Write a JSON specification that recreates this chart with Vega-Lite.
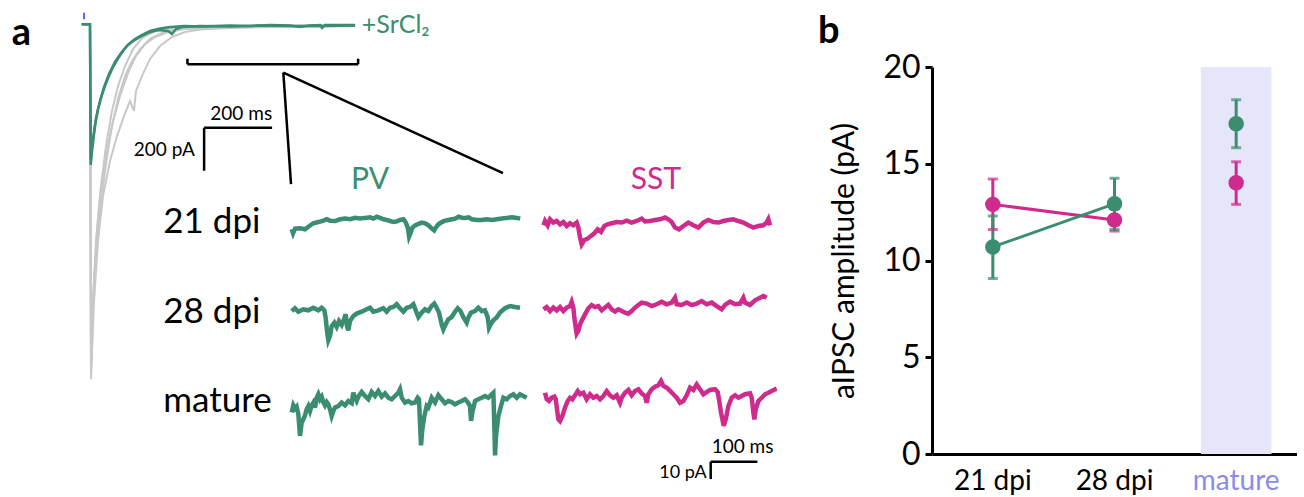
{
  "$schema": "https://vega.github.io/schema/vega-lite/v6.json",
  "padding": {"left": 0, "top": 11, "right": 0, "bottom": 0},
  "autosize": {"type": "pad"},
  "spacing": 17,
  "bounds": "full",
  "config": {"view": {"stroke": null}, "font": "Lato"},
  "datasets": {
    "big": [
      {"k":"gray1","t":0,"I":0},{"k":"gray1","t":24.4,"I":0},{"k":"gray1","t":27.4,"I":-1651},{"k":"gray1","t":30.3,"I":-1426},{"k":"gray1","t":36.2,"I":-1194},{"k":"gray1","t":45,"I":-962},{"k":"gray1","t":56.8,"I":-752},{"k":"gray1","t":71.5,"I":-566},{"k":"gray1","t":89.1,"I":-403},{"k":"gray1","t":106.8,"I":-287},{"k":"gray1","t":127.4,"I":-194},{"k":"gray1","t":150.9,"I":-115},{"k":"gray1","t":177.4,"I":-64},{"k":"gray1","t":215.6,"I":-31},{"k":"gray1","t":259.7,"I":-20},{"k":"gray1","t":318.5,"I":-13},{"k":"gray1","t":495,"I":-8},{"k":"gray1","t":642,"I":-6},{"k":"gray1","t":804,"I":-3},
      {"k":"gray2","t":0,"I":0},{"k":"gray2","t":24.4,"I":0},{"k":"gray2","t":27.4,"I":-1614},{"k":"gray2","t":33.2,"I":-1333},{"k":"gray2","t":42.1,"I":-1078},{"k":"gray2","t":53.8,"I":-869},{"k":"gray2","t":68.5,"I":-683},{"k":"gray2","t":86.2,"I":-497},{"k":"gray2","t":106.8,"I":-348},{"k":"gray2","t":127.4,"I":-241},{"k":"gray2","t":148,"I":-171},{"k":"gray2","t":171.5,"I":-115},{"k":"gray2","t":200.9,"I":-68},{"k":"gray2","t":236.2,"I":-40},{"k":"gray2","t":274.4,"I":-22},{"k":"gray2","t":333.2,"I":-15},{"k":"gray2","t":495,"I":-10},{"k":"gray2","t":804,"I":-6},
      {"k":"gray3","t":0,"I":0},{"k":"gray3","t":24.4,"I":0},{"k":"gray3","t":27.4,"I":-1637},{"k":"gray3","t":36.2,"I":-1287},{"k":"gray3","t":47.9,"I":-1008},{"k":"gray3","t":62.6,"I":-799},{"k":"gray3","t":83.2,"I":-636},{"k":"gray3","t":103.8,"I":-520},{"k":"gray3","t":124.4,"I":-427},{"k":"gray3","t":142.1,"I":-357},{"k":"gray3","t":153.8,"I":-403},{"k":"gray3","t":159.7,"I":-310},{"k":"gray3","t":177.4,"I":-240},{"k":"gray3","t":200.9,"I":-161},{"k":"gray3","t":230.3,"I":-101},{"k":"gray3","t":265.6,"I":-59},{"k":"gray3","t":303.8,"I":-36},{"k":"gray3","t":348,"I":-24},{"k":"gray3","t":436,"I":-17},{"k":"gray3","t":554,"I":-13},{"k":"gray3","t":804,"I":-8},
      {"k":"gray4","t":0,"I":0},{"k":"gray4","t":24.4,"I":0},{"k":"gray4","t":27.4,"I":-1591},{"k":"gray4","t":33.2,"I":-1287},{"k":"gray4","t":42.1,"I":-1008},{"k":"gray4","t":53.8,"I":-799},{"k":"gray4","t":71.5,"I":-613},{"k":"gray4","t":92.1,"I":-450},{"k":"gray4","t":112.6,"I":-334},{"k":"gray4","t":136.2,"I":-227},{"k":"gray4","t":159.7,"I":-147},{"k":"gray4","t":186.2,"I":-92},{"k":"gray4","t":215.6,"I":-59},{"k":"gray4","t":253.8,"I":-36},{"k":"gray4","t":303.8,"I":-22},{"k":"gray4","t":406.8,"I":-15},{"k":"gray4","t":642,"I":-10},{"k":"gray4","t":804,"I":-8},
      {"k":"green1","t":0,"I":0},{"k":"green1","t":24.4,"I":0},{"k":"green1","t":26.5,"I":-654},{"k":"green1","t":30.3,"I":-590},{"k":"green1","t":39.1,"I":-473},{"k":"green1","t":47.9,"I":-394},{"k":"green1","t":58.8,"I":-333},{"k":"green1","t":68.5,"I":-287},{"k":"green1","t":78.2,"I":-248},{"k":"green1","t":92.1,"I":-199},{"k":"green1","t":107.6,"I":-157},{"k":"green1","t":121.5,"I":-124},{"k":"green1","t":137.1,"I":-93},{"k":"green1","t":156.8,"I":-68},{"k":"green1","t":176.5,"I":-50},{"k":"green1","t":200.9,"I":-31},{"k":"green1","t":230.3,"I":-20},{"k":"green1","t":259.7,"I":-13},{"k":"green1","t":303.8,"I":-8},{"k":"green1","t":347.9,"I":-10},{"k":"green1","t":436.2,"I":-6},{"k":"green1","t":495,"I":-8},{"k":"green1","t":553.8,"I":-3},{"k":"green1","t":612.6,"I":-6},{"k":"green1","t":642,"I":-13},{"k":"green1","t":670,"I":-5},{"k":"green1","t":701.2,"I":-3},{"k":"green1","t":707,"I":-17},{"k":"green1","t":715.6,"I":-3},{"k":"green1","t":759.7,"I":-3},{"k":"green1","t":803.8,"I":-3},
      {"k":"green2","t":0,"I":0},{"k":"green2","t":24.4,"I":0},{"k":"green2","t":26.5,"I":-627},{"k":"green2","t":33.2,"I":-533},{"k":"green2","t":42.1,"I":-436},{"k":"green2","t":53.8,"I":-357},{"k":"green2","t":65.6,"I":-292},{"k":"green2","t":80.3,"I":-231},{"k":"green2","t":97.9,"I":-175},{"k":"green2","t":115.6,"I":-133},{"k":"green2","t":133.2,"I":-101},{"k":"green2","t":150.9,"I":-78},{"k":"green2","t":171.5,"I":-59},{"k":"green2","t":195,"I":-40},{"k":"green2","t":224.4,"I":-27},{"k":"green2","t":253.8,"I":-31},{"k":"green2","t":265.6,"I":-45},{"k":"green2","t":277.4,"I":-22},{"k":"green2","t":295,"I":-13},{"k":"green2","t":348,"I":-8},{"k":"green2","t":436,"I":-10},{"k":"green2","t":524,"I":-6},{"k":"green2","t":613,"I":-8},{"k":"green2","t":701,"I":-8},{"k":"green2","t":804,"I":-6}
    ],
    "small": [
      {"s":"p21","t":0,"I":0},{"s":"p21","t":2.9,"I":-2.3},{"s":"p21","t":7.1,"I":0.4},{"s":"p21","t":17.9,"I":0.6},{"s":"p21","t":28.6,"I":0},{"s":"p21","t":35.7,"I":1.5},{"s":"p21","t":46.4,"I":3.5},{"s":"p21","t":57.1,"I":4.2},{"s":"p21","t":67.9,"I":5.0},{"s":"p21","t":75,"I":5.8},{"s":"p21","t":82.1,"I":5.0},{"s":"p21","t":92.9,"I":4.8},{"s":"p21","t":103.6,"I":5.8},{"s":"p21","t":114.3,"I":6.2},{"s":"p21","t":125,"I":5.8},{"s":"p21","t":135.7,"I":6.6},{"s":"p21","t":146.4,"I":6.2},{"s":"p21","t":157.1,"I":6.6},{"s":"p21","t":167.9,"I":6.9},{"s":"p21","t":175,"I":6.2},{"s":"p21","t":182.1,"I":7.3},{"s":"p21","t":189.3,"I":6.6},{"s":"p21","t":196.4,"I":5.8},{"s":"p21","t":203.6,"I":5.4},{"s":"p21","t":210.7,"I":4.8},{"s":"p21","t":217.9,"I":4.2},{"s":"p21","t":225,"I":4.6},{"s":"p21","t":232.1,"I":5.4},{"s":"p21","t":239.3,"I":5.8},{"s":"p21","t":244.3,"I":3.9},{"s":"p21","t":248.6,"I":1.0},{"s":"p21","t":251.4,"I":-4.2},{"s":"p21","t":254.3,"I":-2.3},{"s":"p21","t":258.6,"I":1.0},{"s":"p21","t":264.3,"I":2.3},{"s":"p21","t":271.4,"I":3.1},{"s":"p21","t":278.6,"I":3.9},{"s":"p21","t":285.7,"I":3.5},{"s":"p21","t":292.9,"I":2.3},{"s":"p21","t":300,"I":0.4},{"s":"p21","t":305,"I":-0.6},{"s":"p21","t":308.6,"I":1.0},{"s":"p21","t":314.3,"I":2.9},{"s":"p21","t":321.4,"I":4.2},{"s":"p21","t":328.6,"I":5.0},{"s":"p21","t":335.7,"I":5.4},{"s":"p21","t":342.9,"I":5.8},{"s":"p21","t":350,"I":6.2},{"s":"p21","t":357.1,"I":7.3},{"s":"p21","t":364.3,"I":6.7},{"s":"p21","t":371.4,"I":6.6},{"s":"p21","t":378.6,"I":6.9},{"s":"p21","t":385.7,"I":5.8},{"s":"p21","t":396.4,"I":5.4},{"s":"p21","t":407.1,"I":5.4},{"s":"p21","t":417.9,"I":5.8},{"s":"p21","t":428.6,"I":5.4},{"s":"p21","t":439.3,"I":5.8},{"s":"p21","t":450,"I":6.2},{"s":"p21","t":460.7,"I":6.6},{"s":"p21","t":471.4,"I":6.9},{"s":"p21","t":482.1,"I":6.6},{"s":"p21","t":489.3,"I":6.2},
      {"s":"s21","t":0,"I":-0.6},{"s":"s21","t":3.2,"I":1.9},{"s":"s21","t":8.9,"I":-0.6},{"s":"s21","t":13.9,"I":2.9},{"s":"s21","t":21.1,"I":1.0},{"s":"s21","t":28.2,"I":1.9},{"s":"s21","t":35.3,"I":0},{"s":"s21","t":42.5,"I":1.3},{"s":"s21","t":49.6,"I":-1.0},{"s":"s21","t":56.7,"I":0.6},{"s":"s21","t":63.9,"I":-0.6},{"s":"s21","t":71.0,"I":1.0},{"s":"s21","t":74.6,"I":-1.9},{"s":"s21","t":78.2,"I":-7.7},{"s":"s21","t":81.7,"I":-11.6},{"s":"s21","t":87.4,"I":-9.1},{"s":"s21","t":94.6,"I":-8.3},{"s":"s21","t":101.7,"I":-6.7},{"s":"s21","t":108.8,"I":-5.2},{"s":"s21","t":116,"I":-2.9},{"s":"s21","t":123.1,"I":-4.4},{"s":"s21","t":130.3,"I":-1.0},{"s":"s21","t":137.4,"I":0},{"s":"s21","t":146,"I":0.6},{"s":"s21","t":156.7,"I":1.3},{"s":"s21","t":167.4,"I":1.0},{"s":"s21","t":178.1,"I":2.1},{"s":"s21","t":188.8,"I":1.0},{"s":"s21","t":199.5,"I":1.9},{"s":"s21","t":210.2,"I":3.3},{"s":"s21","t":217.3,"I":1.7},{"s":"s21","t":228.1,"I":1.9},{"s":"s21","t":238.8,"I":2.5},{"s":"s21","t":249.5,"I":2.9},{"s":"s21","t":260.2,"I":3.9},{"s":"s21","t":267.3,"I":2.9},{"s":"s21","t":274.5,"I":1.3},{"s":"s21","t":281.6,"I":-1.9},{"s":"s21","t":290.2,"I":-2.9},{"s":"s21","t":299.5,"I":-1.0},{"s":"s21","t":310.1,"I":1.0},{"s":"s21","t":320.8,"I":-0.6},{"s":"s21","t":331.5,"I":-1.9},{"s":"s21","t":342.3,"I":1.0},{"s":"s21","t":353,"I":2.5},{"s":"s21","t":363.7,"I":1.3},{"s":"s21","t":374.4,"I":1.0},{"s":"s21","t":385.1,"I":1.9},{"s":"s21","t":395.8,"I":2.5},{"s":"s21","t":406.5,"I":2.9},{"s":"s21","t":417.2,"I":1.9},{"s":"s21","t":427.9,"I":1.0},{"s":"s21","t":438.6,"I":-0.6},{"s":"s21","t":449.3,"I":-1.9},{"s":"s21","t":460,"I":-1.0},{"s":"s21","t":470.7,"I":-0.6},{"s":"s21","t":477.9,"I":1.0},{"s":"s21","t":481.4,"I":2.9},{"s":"s21","t":485,"I":-0.6},
      {"s":"p28","t":0,"I":-0.4},{"s":"p28","t":7.1,"I":1.2},{"s":"p28","t":14.2,"I":-0.8},{"s":"p28","t":24.9,"I":0.6},{"s":"p28","t":35.6,"I":0},{"s":"p28","t":46.3,"I":1.5},{"s":"p28","t":57,"I":0},{"s":"p28","t":64.2,"I":1.5},{"s":"p28","t":69.9,"I":0},{"s":"p28","t":72.7,"I":-4.2},{"s":"p28","t":75.6,"I":-11.9},{"s":"p28","t":78.4,"I":-17.3},{"s":"p28","t":82,"I":-14.8},{"s":"p28","t":85.6,"I":-9.1},{"s":"p28","t":91.3,"I":-7.1},{"s":"p28","t":96.3,"I":-9.6},{"s":"p28","t":101.3,"I":-6.2},{"s":"p28","t":107,"I":-8.5},{"s":"p28","t":112.7,"I":-4.6},{"s":"p28","t":115.6,"I":-2.3},{"s":"p28","t":118.4,"I":-9.1},{"s":"p28","t":121.3,"I":-11.6},{"s":"p28","t":124.8,"I":-6.2},{"s":"p28","t":132,"I":-3.3},{"s":"p28","t":139.1,"I":-1.9},{"s":"p28","t":149.8,"I":-0.8},{"s":"p28","t":160.5,"I":0.6},{"s":"p28","t":167.7,"I":1.5},{"s":"p28","t":174.8,"I":-0.8},{"s":"p28","t":185.5,"I":0},{"s":"p28","t":196.2,"I":1.2},{"s":"p28","t":203.4,"I":-0.8},{"s":"p28","t":210.5,"I":1.5},{"s":"p28","t":217.6,"I":1.9},{"s":"p28","t":224.8,"I":3.5},{"s":"p28","t":231.9,"I":1.2},{"s":"p28","t":239.1,"I":-0.8},{"s":"p28","t":246.2,"I":1.5},{"s":"p28","t":253.3,"I":1.9},{"s":"p28","t":260.5,"I":3.5},{"s":"p28","t":265.5,"I":0},{"s":"p28","t":271.2,"I":-3.9},{"s":"p28","t":278.3,"I":-1.3},{"s":"p28","t":285.4,"I":0.6},{"s":"p28","t":292.6,"I":-0.4},{"s":"p28","t":299.7,"I":2.5},{"s":"p28","t":305.4,"I":3.9},{"s":"p28","t":310.4,"I":1.5},{"s":"p28","t":315.4,"I":-1.3},{"s":"p28","t":321.1,"I":-8.1},{"s":"p28","t":324.7,"I":-11.0},{"s":"p28","t":329.7,"I":-8.1},{"s":"p28","t":335.4,"I":-5.2},{"s":"p28","t":342.5,"I":-3.9},{"s":"p28","t":349.7,"I":-0.8},{"s":"p28","t":355.4,"I":1.2},{"s":"p28","t":360.4,"I":0},{"s":"p28","t":367.5,"I":-3.9},{"s":"p28","t":374.7,"I":-7.1},{"s":"p28","t":378.2,"I":-4.2},{"s":"p28","t":384,"I":-1.3},{"s":"p28","t":392.5,"I":-0.4},{"s":"p28","t":399.6,"I":1.5},{"s":"p28","t":406.8,"I":-0.4},{"s":"p28","t":413.9,"I":0},{"s":"p28","t":419.6,"I":-3.9},{"s":"p28","t":422.5,"I":-10.0},{"s":"p28","t":426.8,"I":-7.7},{"s":"p28","t":431.8,"I":-5.8},{"s":"p28","t":438.9,"I":-4.2},{"s":"p28","t":446.1,"I":-1.3},{"s":"p28","t":456.8,"I":1.2},{"s":"p28","t":467.5,"I":2.5},{"s":"p28","t":478.2,"I":1.9},{"s":"p28","t":488.9,"I":1.5},
      {"s":"s28","t":0,"I":0},{"s":"s28","t":6.8,"I":1.3},{"s":"s28","t":13.9,"I":-1.0},{"s":"s28","t":21.1,"I":1.0},{"s":"s28","t":28.2,"I":-0.6},{"s":"s28","t":35.3,"I":1.3},{"s":"s28","t":42.5,"I":-1.0},{"s":"s28","t":49.6,"I":1.0},{"s":"s28","t":56.7,"I":1.9},{"s":"s28","t":60.3,"I":4.4},{"s":"s28","t":63.9,"I":1.0},{"s":"s28","t":66,"I":-4.8},{"s":"s28","t":68.9,"I":-10.6},{"s":"s28","t":71,"I":-14.1},{"s":"s28","t":74.6,"I":-12.5},{"s":"s28","t":78.2,"I":-8.7},{"s":"s28","t":83.2,"I":-5.8},{"s":"s28","t":88.9,"I":-2.9},{"s":"s28","t":96,"I":0.6},{"s":"s28","t":103.1,"I":2.5},{"s":"s28","t":110.3,"I":1.3},{"s":"s28","t":117.4,"I":1.9},{"s":"s28","t":124.6,"I":-0.6},{"s":"s28","t":131.7,"I":1.0},{"s":"s28","t":138.8,"I":2.5},{"s":"s28","t":146,"I":0},{"s":"s28","t":153.1,"I":-1.3},{"s":"s28","t":160.2,"I":0},{"s":"s28","t":167.4,"I":-1.0},{"s":"s28","t":174.5,"I":-1.9},{"s":"s28","t":181.7,"I":-2.5},{"s":"s28","t":188.8,"I":-1.0},{"s":"s28","t":195.9,"I":1.0},{"s":"s28","t":203.1,"I":2.5},{"s":"s28","t":210.2,"I":3.9},{"s":"s28","t":220.9,"I":3.3},{"s":"s28","t":231.6,"I":1.9},{"s":"s28","t":242.3,"I":2.9},{"s":"s28","t":253,"I":4.4},{"s":"s28","t":263.7,"I":2.9},{"s":"s28","t":274.4,"I":3.9},{"s":"s28","t":281.6,"I":6.7},{"s":"s28","t":285.1,"I":2.9},{"s":"s28","t":295.8,"I":2.5},{"s":"s28","t":306.6,"I":3.9},{"s":"s28","t":317.3,"I":2.5},{"s":"s28","t":328,"I":3.3},{"s":"s28","t":338.7,"I":4.8},{"s":"s28","t":349.4,"I":2.9},{"s":"s28","t":360.1,"I":3.9},{"s":"s28","t":370.8,"I":1.9},{"s":"s28","t":381.5,"I":0},{"s":"s28","t":388.7,"I":2.5},{"s":"s28","t":399.4,"I":4.4},{"s":"s28","t":410.1,"I":2.9},{"s":"s28","t":420.8,"I":3.3},{"s":"s28","t":427.9,"I":6.7},{"s":"s28","t":431.5,"I":3.9},{"s":"s28","t":442.2,"I":2.5},{"s":"s28","t":452.9,"I":5.2},{"s":"s28","t":463.6,"I":6.7},{"s":"s28","t":470.7,"I":7.7},{"s":"s28","t":477.9,"I":6.7},
      {"s":"pm","t":0,"I":-1.9},{"s":"pm","t":3.5,"I":2.3},{"s":"pm","t":7.1,"I":0.4},{"s":"pm","t":10.6,"I":1.5},{"s":"pm","t":14.2,"I":-2.9},{"s":"pm","t":17.8,"I":-15.4},{"s":"pm","t":21.3,"I":-7.7},{"s":"pm","t":24.9,"I":-5.8},{"s":"pm","t":28.5,"I":-3.5},{"s":"pm","t":32,"I":0},{"s":"pm","t":35.6,"I":1.9},{"s":"pm","t":39.2,"I":-1.0},{"s":"pm","t":42.8,"I":2.3},{"s":"pm","t":46.3,"I":3.9},{"s":"pm","t":49.9,"I":1.0},{"s":"pm","t":53.5,"I":6.7},{"s":"pm","t":57,"I":8.7},{"s":"pm","t":60.6,"I":5.8},{"s":"pm","t":64.2,"I":7.3},{"s":"pm","t":67.7,"I":4.2},{"s":"pm","t":71.3,"I":2.3},{"s":"pm","t":74.9,"I":4.2},{"s":"pm","t":78.4,"I":2.9},{"s":"pm","t":82,"I":0},{"s":"pm","t":85.6,"I":-3.9},{"s":"pm","t":89.1,"I":-1.0},{"s":"pm","t":92.7,"I":1.0},{"s":"pm","t":99.9,"I":1.9},{"s":"pm","t":107,"I":3.9},{"s":"pm","t":114.1,"I":2.3},{"s":"pm","t":121.3,"I":4.8},{"s":"pm","t":128.4,"I":3.5},{"s":"pm","t":131.9,"I":9.6},{"s":"pm","t":135.5,"I":6.7},{"s":"pm","t":139.1,"I":4.8},{"s":"pm","t":142.7,"I":7.3},{"s":"pm","t":149.8,"I":10.0},{"s":"pm","t":156.9,"I":7.7},{"s":"pm","t":164.1,"I":5.8},{"s":"pm","t":171.2,"I":10.0},{"s":"pm","t":178.4,"I":7.7},{"s":"pm","t":185.5,"I":10.6},{"s":"pm","t":192.7,"I":7.3},{"s":"pm","t":199.8,"I":9.2},{"s":"pm","t":206.9,"I":6.7},{"s":"pm","t":214.1,"I":5.8},{"s":"pm","t":221.2,"I":7.7},{"s":"pm","t":228.3,"I":9.6},{"s":"pm","t":231.9,"I":11.6},{"s":"pm","t":235.5,"I":6.7},{"s":"pm","t":242.6,"I":3.9},{"s":"pm","t":249.8,"I":4.8},{"s":"pm","t":256.9,"I":3.5},{"s":"pm","t":264.1,"I":3.9},{"s":"pm","t":269.8,"I":6.7},{"s":"pm","t":272.6,"I":5.8},{"s":"pm","t":274.7,"I":-7.7},{"s":"pm","t":276.9,"I":-20.8},{"s":"pm","t":279.7,"I":-11.6},{"s":"pm","t":284,"I":-3.9},{"s":"pm","t":289,"I":1.9},{"s":"pm","t":292.6,"I":1.0},{"s":"pm","t":299.7,"I":6.7},{"s":"pm","t":306.9,"I":3.9},{"s":"pm","t":314,"I":8.1},{"s":"pm","t":321.1,"I":5.8},{"s":"pm","t":328.3,"I":3.5},{"s":"pm","t":335.4,"I":4.8},{"s":"pm","t":342.5,"I":4.2},{"s":"pm","t":349.7,"I":2.9},{"s":"pm","t":356.8,"I":3.9},{"s":"pm","t":363.9,"I":4.8},{"s":"pm","t":371.1,"I":5.8},{"s":"pm","t":376.8,"I":4.2},{"s":"pm","t":381.8,"I":1.9},{"s":"pm","t":384,"I":-6.7},{"s":"pm","t":386.8,"I":-1.9},{"s":"pm","t":392.5,"I":4.8},{"s":"pm","t":399.6,"I":5.8},{"s":"pm","t":406.8,"I":6.7},{"s":"pm","t":413.9,"I":7.7},{"s":"pm","t":421,"I":6.7},{"s":"pm","t":428.2,"I":8.7},{"s":"pm","t":431.8,"I":9.6},{"s":"pm","t":433.9,"I":-9.6},{"s":"pm","t":435.4,"I":-26.6},{"s":"pm","t":437.5,"I":-15.4},{"s":"pm","t":442.5,"I":-3.9},{"s":"pm","t":448.2,"I":1.9},{"s":"pm","t":453.2,"I":6.7},{"s":"pm","t":460.3,"I":5.8},{"s":"pm","t":467.5,"I":7.7},{"s":"pm","t":474.6,"I":8.7},{"s":"pm","t":481.8,"I":6.7},{"s":"pm","t":488.8,"I":8.7},{"s":"pm","t":496,"I":7.7},{"s":"pm","t":503.1,"I":6.7},
      {"s":"sm","t":3.2,"I":1.9},{"s":"sm","t":6.8,"I":-1.9},{"s":"sm","t":11.8,"I":-2.9},{"s":"sm","t":17.5,"I":-1.0},{"s":"sm","t":23.2,"I":-0.4},{"s":"sm","t":26.1,"I":-1.9},{"s":"sm","t":28.9,"I":-7.7},{"s":"sm","t":31.8,"I":-13.5},{"s":"sm","t":35.3,"I":-14.5},{"s":"sm","t":40.3,"I":-11.6},{"s":"sm","t":46,"I":-6.7},{"s":"sm","t":51.7,"I":-2.9},{"s":"sm","t":56.7,"I":-1.0},{"s":"sm","t":61.7,"I":-1.9},{"s":"sm","t":67.5,"I":0.4},{"s":"sm","t":73.2,"I":2.9},{"s":"sm","t":78.2,"I":1.0},{"s":"sm","t":85.3,"I":1.9},{"s":"sm","t":92.4,"I":-1.9},{"s":"sm","t":99.6,"I":1.0},{"s":"sm","t":106.7,"I":-1.0},{"s":"sm","t":113.8,"I":0},{"s":"sm","t":121,"I":-1.9},{"s":"sm","t":128.1,"I":0},{"s":"sm","t":135.3,"I":2.9},{"s":"sm","t":142.4,"I":0.4},{"s":"sm","t":149.5,"I":-1.0},{"s":"sm","t":156.7,"I":0.4},{"s":"sm","t":163.8,"I":-3.9},{"s":"sm","t":167.4,"I":-1.0},{"s":"sm","t":174.5,"I":1.9},{"s":"sm","t":181.7,"I":3.5},{"s":"sm","t":188.8,"I":0.4},{"s":"sm","t":195.9,"I":2.9},{"s":"sm","t":203.1,"I":3.9},{"s":"sm","t":210.2,"I":1.5},{"s":"sm","t":217.3,"I":0},{"s":"sm","t":220.9,"I":-3.9},{"s":"sm","t":224.5,"I":1.0},{"s":"sm","t":231.6,"I":3.9},{"s":"sm","t":238.8,"I":5.4},{"s":"sm","t":245.9,"I":6.2},{"s":"sm","t":251.6,"I":8.7},{"s":"sm","t":256.6,"I":5.8},{"s":"sm","t":263.7,"I":4.8},{"s":"sm","t":270.9,"I":2.9},{"s":"sm","t":278,"I":1.0},{"s":"sm","t":285.2,"I":-1.0},{"s":"sm","t":292.3,"I":-3.9},{"s":"sm","t":299.4,"I":-2.9},{"s":"sm","t":306.6,"I":0.4},{"s":"sm","t":313.7,"I":4.8},{"s":"sm","t":320.8,"I":3.5},{"s":"sm","t":328,"I":6.7},{"s":"sm","t":335.1,"I":3.9},{"s":"sm","t":342.3,"I":1.0},{"s":"sm","t":349.4,"I":2.3},{"s":"sm","t":356.5,"I":3.5},{"s":"sm","t":367.2,"I":3.9},{"s":"sm","t":372.9,"I":2.3},{"s":"sm","t":375.8,"I":-1.9},{"s":"sm","t":380.1,"I":-9.6},{"s":"sm","t":385.8,"I":-17.3},{"s":"sm","t":390.1,"I":-13.5},{"s":"sm","t":395.8,"I":-5.8},{"s":"sm","t":402.9,"I":-1.0},{"s":"sm","t":410.1,"I":0.4},{"s":"sm","t":417.2,"I":-1.0},{"s":"sm","t":424.3,"I":0},{"s":"sm","t":431.5,"I":1.0},{"s":"sm","t":442.2,"I":1.5},{"s":"sm","t":445.8,"I":-1.0},{"s":"sm","t":449.4,"I":-9.6},{"s":"sm","t":451.5,"I":-13.5},{"s":"sm","t":454.4,"I":-7.7},{"s":"sm","t":460.1,"I":-2.9},{"s":"sm","t":467.2,"I":-1.0},{"s":"sm","t":474.3,"I":1.0},{"s":"sm","t":481.4,"I":1.9},{"s":"sm","t":488.6,"I":2.9},{"s":"sm","t":495.7,"I":3.9},{"s":"sm","t":499.3,"I":4.2}
    ],
    "amp": [
      {"age":"21 dpi","type":"SST","mean":12.9,"lo":11.6,"hi":14.21},
      {"age":"28 dpi","type":"SST","mean":12.09,"lo":11.52,"hi":12.66},
      {"age":"mature","type":"SST","mean":14.02,"lo":12.9,"hi":15.1},
      {"age":"21 dpi","type":"PV","mean":10.7,"lo":9.07,"hi":12.3},
      {"age":"28 dpi","type":"PV","mean":12.93,"lo":11.6,"hi":14.25},
      {"age":"mature","type":"PV","mean":17.07,"lo":15.83,"hi":18.31}
    ]
  },
  "hconcat": [
    {
      "width": 800,
      "height": 420,
      "resolve": {"scale": {"x": "independent", "y": "independent"}},
      "layer": [
        {
          "layer": [
            {
              "data": {"name": "big"},
              "transform": [{"filter": "indexof(datum.k, 'gray') === 0"}],
              "mark": {"type": "line", "color": "#c8c8c8", "strokeWidth": 2},
              "encoding": {
                "x": {"field": "t", "type": "quantitative", "scale": {"domain": [-240.3, 2112.6], "nice": false, "zero": false}, "axis": null},
                "y": {"field": "I", "type": "quantitative", "scale": {"domain": [-2152.1, -198.6], "nice": false, "zero": false}, "axis": null},
                "detail": {"field": "k"}
              }
            },
            {
              "data": {"name": "big"},
              "transform": [{"filter": "indexof(datum.k, 'green') === 0"}],
              "mark": {"type": "line", "color": "#3a8d6f", "strokeWidth": 2.5},
              "encoding": {
                "x": {"field": "t", "type": "quantitative", "axis": null},
                "y": {"field": "I", "type": "quantitative", "axis": null},
                "detail": {"field": "k"}
              }
            },
            {
              "data": {"values": [{}]},
              "mark": {"type": "rule", "color": "#2f2fff", "strokeWidth": 1.5},
              "encoding": {
                "x": {"datum": 6.8, "type": "quantitative", "axis": null},
                "y": {"datum": 54, "type": "quantitative", "axis": null},
                "y2": {"datum": 23}
              }
            },
            {
              "data": {"values": [{}]},
              "mark": {"type": "rule", "color": "black", "strokeWidth": 2.5},
              "encoding": {
                "x": {"datum": 311, "type": "quantitative", "axis": null},
                "x2": {"datum": 813},
                "y": {"datum": -186, "type": "quantitative", "axis": null}
              }
            },
            {
              "data": {"values": [{}]},
              "mark": {"type": "rule", "color": "black", "strokeWidth": 2.5},
              "encoding": {
                "x": {"datum": 311, "type": "quantitative", "axis": null},
                "y": {"datum": -186, "type": "quantitative", "axis": null},
                "y2": {"datum": -160}
              }
            },
            {
              "data": {"values": [{}]},
              "mark": {"type": "rule", "color": "black", "strokeWidth": 2.5},
              "encoding": {
                "x": {"datum": 813, "type": "quantitative", "axis": null},
                "y": {"datum": -186, "type": "quantitative", "axis": null},
                "y2": {"datum": -160}
              }
            },
            {
              "data": {"values": [{}]},
              "mark": {"type": "rule", "color": "black", "strokeWidth": 2.5},
              "encoding": {
                "x": {"datum": 593, "type": "quantitative", "axis": null},
                "y": {"datum": -225, "type": "quantitative", "axis": null},
                "x2": {"datum": 615.6},
                "y2": {"datum": -743}
              }
            },
            {
              "data": {"values": [{}]},
              "mark": {"type": "rule", "color": "black", "strokeWidth": 2.5},
              "encoding": {
                "x": {"datum": 593, "type": "quantitative", "axis": null},
                "y": {"datum": -225, "type": "quantitative", "axis": null},
                "x2": {"datum": 1239},
                "y2": {"datum": -692}
              }
            },
            {
              "data": {"values": [{}]},
              "mark": {"type": "rule", "color": "black", "strokeWidth": 2.5},
              "encoding": {
                "x": {"datum": 360, "type": "quantitative", "axis": null},
                "x2": {"datum": 560},
                "y": {"datum": -481, "type": "quantitative", "axis": null}
              }
            },
            {
              "data": {"values": [{}]},
              "mark": {"type": "rule", "color": "black", "strokeWidth": 2.5},
              "encoding": {
                "x": {"datum": 360, "type": "quantitative", "axis": null},
                "y": {"datum": -481, "type": "quantitative", "axis": null},
                "y2": {"datum": -681}
              }
            },
            {
              "data": {"values": [{}]},
              "mark": {"type": "text", "text": "a", "fontSize": 38, "fontWeight": "bold", "align": "left", "baseline": "alphabetic", "color": "black"},
              "encoding": {
                "x": {"datum": -206, "type": "quantitative", "axis": null},
                "y": {"datum": -96, "type": "quantitative", "axis": null}
              }
            },
            {
              "data": {"values": [{}]},
              "mark": {"type": "text", "text": "+SrCl₂", "fontSize": 25, "align": "left", "baseline": "alphabetic", "color": "#3a8d6f"},
              "encoding": {
                "x": {"datum": 824, "type": "quantitative", "axis": null},
                "y": {"datum": -39, "type": "quantitative", "axis": null}
              }
            },
            {
              "data": {"values": [{}]},
              "mark": {"type": "text", "text": "200 ms", "fontSize": 19, "align": "right", "baseline": "alphabetic", "color": "black"},
              "encoding": {
                "x": {"datum": 560, "type": "quantitative", "axis": null},
                "y": {"datum": -447, "type": "quantitative", "axis": null}
              }
            },
            {
              "data": {"values": [{}]},
              "mark": {"type": "text", "text": "200 pA", "fontSize": 19, "align": "right", "baseline": "alphabetic", "color": "black"},
              "encoding": {
                "x": {"datum": 333, "type": "quantitative", "axis": null},
                "y": {"datum": -612, "type": "quantitative", "axis": null}
              }
            },
            {
              "data": {"values": [{}]},
              "mark": {"type": "text", "text": "PV", "fontSize": 30, "align": "center", "baseline": "alphabetic", "color": "#3a8d6f"},
              "encoding": {
                "x": {"datum": 848, "type": "quantitative", "axis": null},
                "y": {"datum": -766, "type": "quantitative", "axis": null}
              }
            },
            {
              "data": {"values": [{}]},
              "mark": {"type": "text", "text": "SST", "fontSize": 30, "align": "center", "baseline": "alphabetic", "color": "#cf2b8d"},
              "encoding": {
                "x": {"datum": 1689, "type": "quantitative", "axis": null},
                "y": {"datum": -766, "type": "quantitative", "axis": null}
              }
            },
            {
              "data": {"values": [{}]},
              "mark": {"type": "text", "text": "21 dpi", "fontSize": 35, "align": "left", "baseline": "alphabetic", "color": "black"},
              "encoding": {
                "x": {"datum": 240, "type": "quantitative", "axis": null},
                "y": {"datum": -971, "type": "quantitative", "axis": null}
              }
            },
            {
              "data": {"values": [{}]},
              "mark": {"type": "text", "text": "28 dpi", "fontSize": 35, "align": "left", "baseline": "alphabetic", "color": "black"},
              "encoding": {
                "x": {"datum": 240, "type": "quantitative", "axis": null},
                "y": {"datum": -1388, "type": "quantitative", "axis": null}
              }
            },
            {
              "data": {"values": [{}]},
              "mark": {"type": "text", "text": "mature", "fontSize": 35, "align": "left", "baseline": "alphabetic", "color": "black"},
              "encoding": {
                "x": {"datum": 240, "type": "quantitative", "axis": null},
                "y": {"datum": -1805, "type": "quantitative", "axis": null}
              }
            }
          ]
        },
        {
          "data": {"name": "small"},
          "transform": [{"filter": "datum.s === 'p21'"}],
          "mark": {"type": "line", "color": "#3a8d6f", "strokeWidth": 4.5},
          "encoding": {
            "x": {"field": "t", "type": "quantitative", "scale": {"domain": [-624.6, 1088.4], "nice": false, "zero": false}, "axis": null},
            "y": {"field": "I", "type": "quantitative", "scale": {"domain": [-148.95, 93.82], "nice": false, "zero": false}, "axis": null}
          }
        },
        {
          "data": {"name": "small"},
          "transform": [{"filter": "datum.s === 's21'"}],
          "mark": {"type": "line", "color": "#cf2b8d", "strokeWidth": 4.5},
          "encoding": {
            "x": {"field": "t", "type": "quantitative", "scale": {"domain": [-1163.8, 549.2], "nice": false, "zero": false}, "axis": null},
            "y": {"field": "I", "type": "quantitative", "scale": {"domain": [-151.85, 90.92], "nice": false, "zero": false}, "axis": null}
          }
        },
        {
          "data": {"name": "small"},
          "transform": [{"filter": "datum.s === 'p28'"}],
          "mark": {"type": "line", "color": "#3a8d6f", "strokeWidth": 4.5},
          "encoding": {
            "x": {"field": "t", "type": "quantitative", "scale": {"domain": [-624.6, 1088.4], "nice": false, "zero": false}, "axis": null},
            "y": {"field": "I", "type": "quantitative", "scale": {"domain": [-102.13, 140.64], "nice": false, "zero": false}, "axis": null}
          }
        },
        {
          "data": {"name": "small"},
          "transform": [{"filter": "datum.s === 's28'"}],
          "mark": {"type": "line", "color": "#cf2b8d", "strokeWidth": 4.5},
          "encoding": {
            "x": {"field": "t", "type": "quantitative", "scale": {"domain": [-1163.8, 549.2], "nice": false, "zero": false}, "axis": null},
            "y": {"field": "I", "type": "quantitative", "scale": {"domain": [-102.71, 140.06], "nice": false, "zero": false}, "axis": null}
          }
        },
        {
          "data": {"name": "small"},
          "transform": [{"filter": "datum.s === 'pm'"}],
          "mark": {"type": "line", "color": "#3a8d6f", "strokeWidth": 4.5},
          "encoding": {
            "x": {"field": "t", "type": "quantitative", "scale": {"domain": [-624.6, 1088.4], "nice": false, "zero": false}, "axis": null},
            "y": {"field": "I", "type": "quantitative", "scale": {"domain": [-44.91, 197.86], "nice": false, "zero": false}, "axis": null}
          }
        },
        {
          "layer": [
            {
              "data": {"name": "small"},
              "transform": [{"filter": "datum.s === 'sm'"}],
              "mark": {"type": "line", "color": "#cf2b8d", "strokeWidth": 4.5},
              "encoding": {
                "x": {"field": "t", "type": "quantitative", "scale": {"domain": [-1163.8, 549.2], "nice": false, "zero": false}, "axis": null},
                "y": {"field": "I", "type": "quantitative", "scale": {"domain": [-52.6, 190.17], "nice": false, "zero": false}, "axis": null}
              }
            },
            {
              "data": {"values": [{}]},
              "mark": {"type": "rule", "color": "black", "strokeWidth": 2.5},
              "encoding": {
                "x": {"datum": 358, "type": "quantitative", "axis": null},
                "x2": {"datum": 458},
                "y": {"datum": -38, "type": "quantitative", "axis": null}
              }
            },
            {
              "data": {"values": [{}]},
              "mark": {"type": "rule", "color": "black", "strokeWidth": 2.5},
              "encoding": {
                "x": {"datum": 358, "type": "quantitative", "axis": null},
                "y": {"datum": -38, "type": "quantitative", "axis": null},
                "y2": {"datum": -48}
              }
            },
            {
              "data": {"values": [{}]},
              "mark": {"type": "text", "text": "100 ms", "fontSize": 19, "align": "left", "baseline": "alphabetic", "color": "black"},
              "encoding": {
                "x": {"datum": 360, "type": "quantitative", "axis": null},
                "y": {"datum": -33.1, "type": "quantitative", "axis": null}
              }
            },
            {
              "data": {"values": [{}]},
              "mark": {"type": "text", "text": "10 pA", "fontSize": 18, "align": "right", "baseline": "alphabetic", "color": "black"},
              "encoding": {
                "x": {"datum": 349.5, "type": "quantitative", "axis": null},
                "y": {"datum": -47.6, "type": "quantitative", "axis": null}
              }
            }
          ]
        }
      ]
    },
    {
      "width": 365,
      "height": 387,
      "title": {"text": "b", "anchor": "start", "frame": "bounds", "fontSize": 38, "fontWeight": "bold", "color": "black", "offset": 0, "dx": -12},
      "data": {"name": "amp"},
      "encoding": {
        "x": {
          "field": "age", "type": "nominal",
          "scale": {"type": "band", "domain": ["21 dpi", "28 dpi", "mature"], "paddingInner": 0, "paddingOuter": 0},
          "axis": {
            "title": null, "ticks": false, "labelAngle": 0, "labelFontSize": 28, "labelPadding": 13,
            "domainColor": "black", "domainWidth": 3,
            "labelColor": {"condition": {"test": "datum.value === 'mature'", "value": "#8b8bef"}, "value": "black"}
          }
        },
        "color": {"field": "type", "type": "nominal", "scale": {"domain": ["PV", "SST"], "range": ["#3a8d6f", "#cf2b8d"]}, "legend": null}
      },
      "layer": [
        {
          "data": {"values": [{"age": "mature"}]},
          "mark": {"type": "bar", "width": {"band": 0.58}},
          "encoding": {
            "y": {"datum": 20, "type": "quantitative", "scale": {"domain": [0, 20], "nice": false}, "title": "aIPSC amplitude (pA)"},
            "y2": {"datum": 0},
            "color": {"value": "#e6e6fa"}
          }
        },
        {
          "transform": [{"filter": "datum.age !== 'mature'"}],
          "mark": {"type": "line", "strokeWidth": 3},
          "encoding": {
            "y": {
              "field": "mean", "type": "quantitative", "title": "aIPSC amplitude (pA)",
              "scale": {"domain": [0, 20], "nice": false},
              "axis": {
                "title": "aIPSC amplitude (pA)", "values": [0, 5, 10, 15, 20], "grid": false,
                "tickSize": 7, "tickWidth": 3, "tickColor": "black", "domainColor": "black", "domainWidth": 3,
                "labelFontSize": 32, "labelColor": "black", "labelPadding": 5,
                "titleFontSize": 30, "titleFontWeight": "normal", "titleColor": "black", "titlePadding": 23
              }
            }
          }
        },
        {
          "mark": {"type": "rule", "strokeWidth": 3},
          "encoding": {"y": {"field": "lo", "type": "quantitative", "title": "aIPSC amplitude (pA)"}, "y2": {"field": "hi"}}
        },
        {
          "mark": {"type": "tick", "thickness": 3, "size": 10},
          "encoding": {"y": {"field": "lo", "type": "quantitative", "title": "aIPSC amplitude (pA)"}}
        },
        {
          "mark": {"type": "tick", "thickness": 3, "size": 10},
          "encoding": {"y": {"field": "hi", "type": "quantitative", "title": "aIPSC amplitude (pA)"}}
        },
        {
          "mark": {"type": "circle", "size": 240, "opacity": 1},
          "encoding": {
            "y": {
              "field": "mean", "type": "quantitative", "title": "aIPSC amplitude (pA)",
              "axis": {
                "title": "aIPSC amplitude (pA)", "values": [0, 5, 10, 15, 20], "grid": false,
                "tickSize": 7, "tickWidth": 3, "tickColor": "black", "domainColor": "black", "domainWidth": 3,
                "labelFontSize": 32, "labelColor": "black", "labelPadding": 5,
                "titleFontSize": 30, "titleFontWeight": "normal", "titleColor": "black", "titlePadding": 23
              }
            }
          }
        }
      ]
    }
  ]
}
